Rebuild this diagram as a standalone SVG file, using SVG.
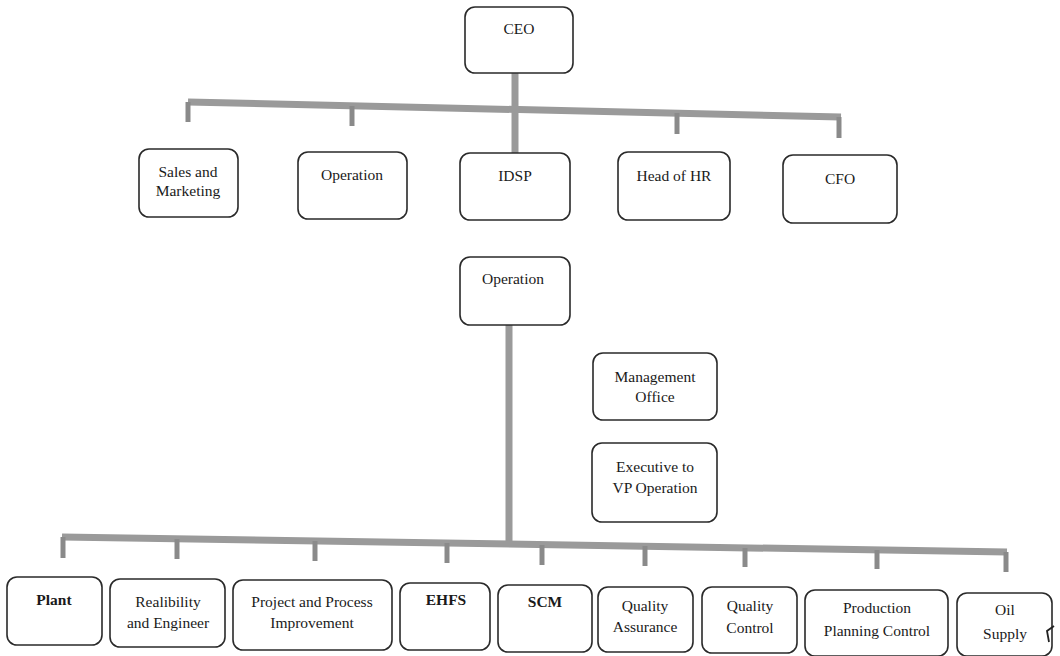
<svg xmlns="http://www.w3.org/2000/svg" width="1060" height="656" viewBox="0 0 1060 656">
<style>
.box{fill:#fff;stroke:#2a2a2a;stroke-width:1.6}
.t{font-family:"Liberation Serif",serif;font-size:15.5px;fill:#1a1a1a;text-anchor:middle}
.b{font-weight:bold}
.bar{stroke:#9a9a9a;stroke-width:7;fill:none}
.tick{stroke:#8a8a8a;stroke-width:5;fill:none}
</style>
<rect width="1060" height="656" fill="#fff"/>
<g id="connectors">
<line class="bar" x1="188" y1="102" x2="841" y2="117"/>
<line class="bar" x1="515" y1="73" x2="515" y2="153"/>
<line class="tick" x1="188" y1="102" x2="188" y2="122"/>
<line class="tick" x1="352" y1="106" x2="352" y2="126"/>
<line class="tick" x1="677" y1="113" x2="677" y2="134"/>
<line class="tick" x1="839" y1="117" x2="839" y2="138"/>
<line class="bar" x1="509" y1="325" x2="509" y2="546"/>
<line class="bar" x1="62" y1="537" x2="1007" y2="552"/>
<line class="tick" x1="63" y1="537" x2="63" y2="558"/>
<line class="tick" x1="177" y1="539" x2="177" y2="559"/>
<line class="tick" x1="315" y1="541" x2="315" y2="561"/>
<line class="tick" x1="447" y1="543" x2="447" y2="563"/>
<line class="tick" x1="542" y1="545" x2="542" y2="565"/>
<line class="tick" x1="645" y1="546" x2="645" y2="566"/>
<line class="tick" x1="745" y1="548" x2="745" y2="567"/>
<line class="tick" x1="877" y1="550" x2="877" y2="569"/>
<line class="tick" x1="1006" y1="552" x2="1006" y2="572"/>
</g>
<g id="ceo"><rect class="box" x="465" y="7" width="108" height="66" rx="10"/><text class="t" x="519" y="34">CEO</text></g>
<g id="sales"><rect class="box" x="139" y="149" width="99" height="68" rx="10"/><text class="t" x="188" y="177">Sales and</text><text class="t" x="188" y="196">Marketing</text></g>
<g id="operation1"><rect class="box" x="298" y="152" width="109" height="67" rx="10"/><text class="t" x="352" y="180">Operation</text></g>
<g id="idsp"><rect class="box" x="460" y="153" width="110" height="67" rx="10"/><text class="t" x="515" y="181">IDSP</text></g>
<g id="hr"><rect class="box" x="618" y="152" width="112" height="68" rx="10"/><text class="t" x="674" y="181">Head of HR</text></g>
<g id="cfo"><rect class="box" x="783" y="155" width="114" height="68" rx="10"/><text class="t" x="840" y="184">CFO</text></g>
<g id="operation2"><rect class="box" x="460" y="257" width="110" height="68" rx="10"/><text class="t" x="513" y="284">Operation</text></g>
<g id="mgmt"><rect class="box" x="593" y="353" width="124" height="67" rx="10"/><text class="t" x="655" y="382">Management</text><text class="t" x="655" y="402">Office</text></g>
<g id="exec"><rect class="box" x="592" y="443" width="125" height="79" rx="10"/><text class="t" x="655" y="472">Executive to</text><text class="t" x="655" y="493">VP Operation</text></g>
<g id="plant"><rect class="box" x="7" y="577" width="95" height="68" rx="10"/><text class="t b" x="54" y="605">Plant</text></g>
<g id="reliability"><rect class="box" x="110" y="579" width="115" height="68" rx="10"/><text class="t" x="168" y="607">Realibility</text><text class="t" x="168" y="628">and Engineer</text></g>
<g id="project"><rect class="box" x="233" y="580" width="159" height="70" rx="10"/><text class="t" x="312" y="607">Project and Process</text><text class="t" x="312" y="628">Improvement</text></g>
<g id="ehfs"><rect class="box" x="400" y="583" width="90" height="67" rx="10"/><text class="t b" x="446" y="605">EHFS</text></g>
<g id="scm"><rect class="box" x="498" y="585" width="94" height="67" rx="10"/><text class="t b" x="545" y="607">SCM</text></g>
<g id="qa"><rect class="box" x="598" y="587" width="95" height="65" rx="10"/><text class="t" x="645" y="611">Quality</text><text class="t" x="645" y="632">Assurance</text></g>
<g id="qc"><rect class="box" x="702" y="587" width="95" height="66" rx="10"/><text class="t" x="750" y="611">Quality</text><text class="t" x="750" y="633">Control</text></g>
<g id="ppc"><rect class="box" x="805" y="590" width="143" height="66" rx="10"/><text class="t" x="877" y="613">Production</text><text class="t" x="877" y="636">Planning Control</text></g>
<g id="oil"><rect class="box" x="957" y="593" width="95" height="63" rx="10"/><text class="t" x="1005" y="615">Oil</text><text class="t" x="1005" y="639">Supply</text></g>
<path d="M1054 626 L1047 631 L1049 642" fill="none" stroke="#222" stroke-width="1.8"/>
</svg>
